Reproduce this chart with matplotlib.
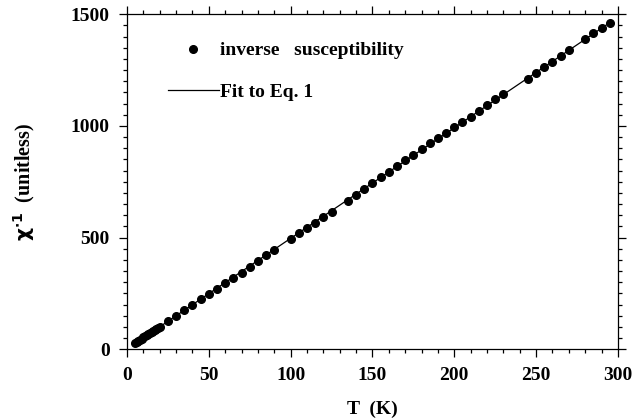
import numpy as np
import matplotlib.pyplot as plt
from matplotlib.ticker import MultipleLocator

T = [5, 6, 7, 8, 9, 10, 11, 12, 13, 14, 15, 16, 17, 18, 19, 20,
     25, 30, 35, 40, 45, 50, 55, 60, 65, 70, 75, 80, 85, 90,
     100, 105, 110, 115, 120, 125, 135, 140, 145, 150, 155, 160, 165,
     170, 175, 180, 185, 190, 195, 200, 205, 210, 215, 220, 225, 230,
     245, 250, 255, 260, 265, 270, 280, 285, 290, 295]
chi_inv = [28, 33, 38, 43, 48, 53, 58, 63, 68, 73, 78, 83, 87, 92, 97, 101,
           127, 151, 176, 198, 224, 248, 271, 296, 321, 343, 370, 395, 421, 445,
           494, 519, 542, 567, 591, 615, 665, 691, 716, 743, 770, 795, 821,
           848, 871, 897, 922, 945, 970, 994, 1018, 1042, 1069, 1094, 1120, 1142,
           1210, 1236, 1263, 1288, 1315, 1339, 1391, 1415, 1437, 1460]

xticks = [0, 50, 100, 150, 200, 250, 300]
yticks = [0, 500, 1000, 1500]

plt.rcParams['font.family'] = ['Liberation Serif', 'DejaVu Serif']
plt.rcParams['font.weight'] = 'bold'

fig = plt.figure(figsize=(6.39, 4.19), dpi=100)
ax = fig.add_axes([0.1987, 0.1663, 0.7683, 0.7996])

# linear fit (Eq. 1) over the measured range
coef = np.polyfit(T, chi_inv, 1)
t_fit = np.linspace(min(T), 296, 200)
ax.plot(t_fit, np.polyval(coef, t_fit), color='black', lw=0.9, label='Fit to Eq. 1')
ax.plot(T, chi_inv, 'o', color='black', ms=5.5, label='inverse   susceptibility')

ax.set_xlim(0, 300)
ax.set_ylim(0, 1500)
ax.set_xticks(xticks)
ax.set_yticks(yticks)
ax.xaxis.set_minor_locator(MultipleLocator(10))
ax.yaxis.set_minor_locator(MultipleLocator(50))
ax.tick_params(which='both', direction='out', top=True, right=True, width=0.9)
ax.tick_params(which='major', length=5.5, labelsize=14, pad=7)
ax.tick_params(which='minor', length=3)
for lab in ax.get_xticklabels() + ax.get_yticklabels():
    lab.set_fontweight('bold')
for sp in ax.spines.values():
    sp.set_linewidth(0.9)

ax.set_xlabel('T  (K)', fontsize=14, fontweight='bold', labelpad=12)
ax.set_ylabel(r'$\mathbf{\chi^{\cdot 1}}$  (unitless)', fontsize=14.5, fontweight='bold', labelpad=24)

h, l = ax.get_legend_handles_labels()
ax.legend([h[1], h[0]], [l[1], l[0]], loc='upper left', bbox_to_anchor=(0.0835, 0.918),
          frameon=False, borderpad=0, borderaxespad=0, handlelength=2.6,
          handletextpad=0.1, labelspacing=1.25, fontsize=14, numpoints=1)

fig.savefig('out.png', dpi=100)
